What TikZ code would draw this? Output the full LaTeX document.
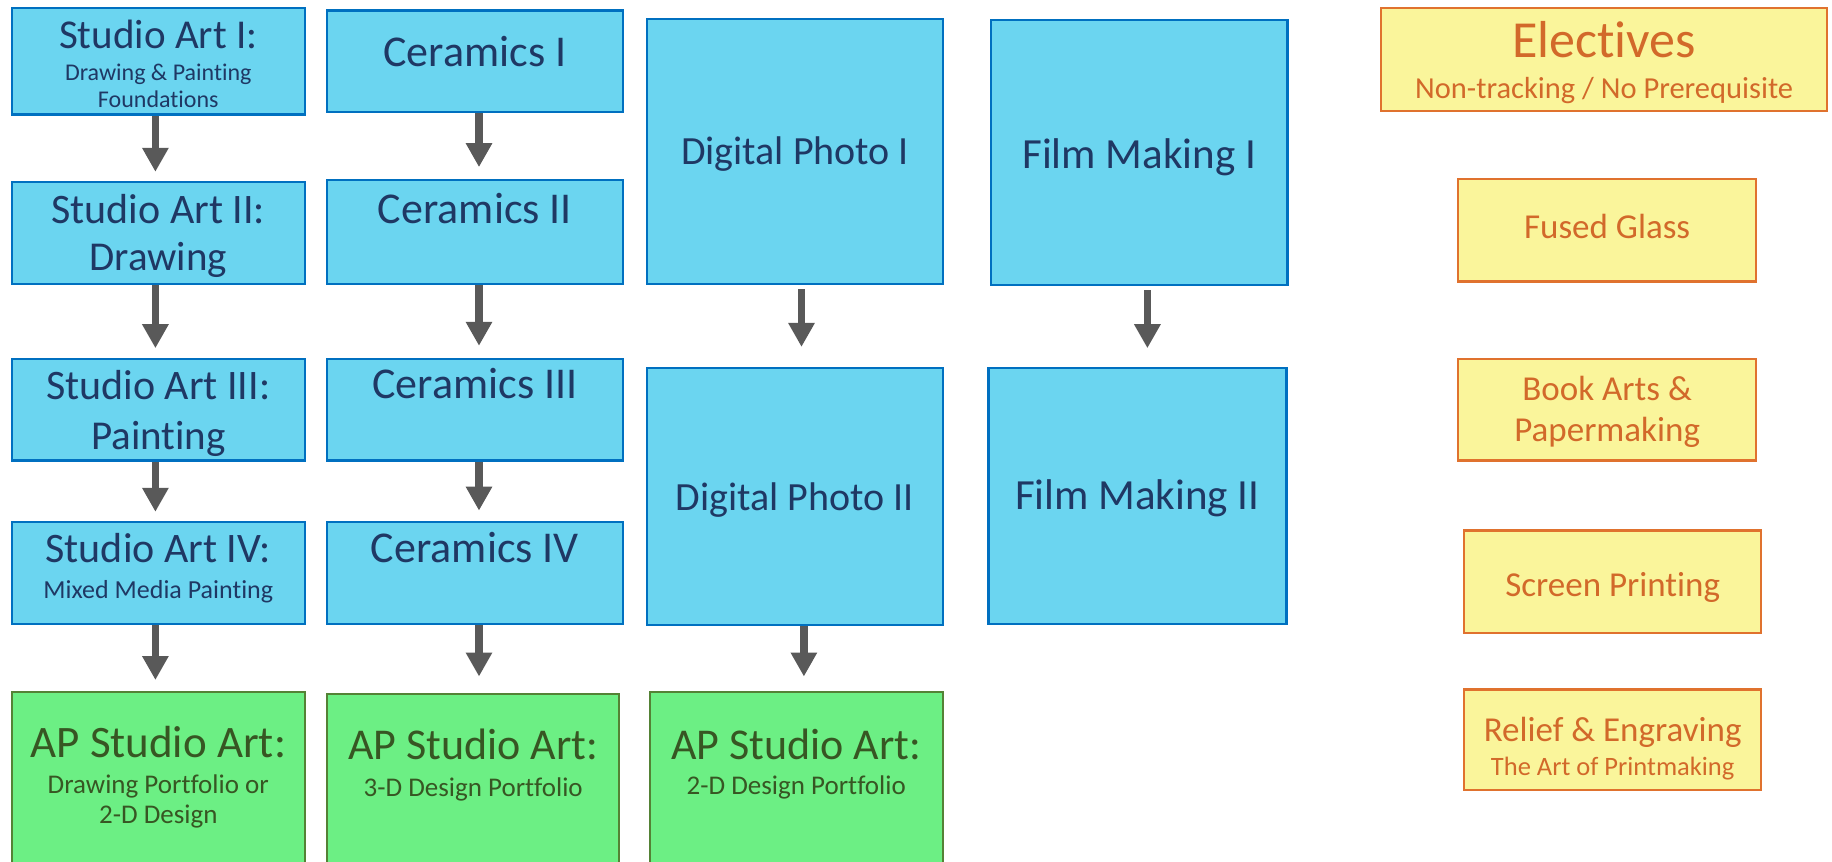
\documentclass[tikz,border=0pt]{standalone}
\usepackage{fontspec}
\setmainfont[Ligatures=NoCommon]{Carlito}
\usetikzlibrary{arrows.meta}
\definecolor{bfill}{HTML}{6BD5F0}
\definecolor{bdraw}{HTML}{0070C0}
\definecolor{btext}{HTML}{1F3864}
\definecolor{gfill}{HTML}{6CEF84}
\definecolor{gdraw}{HTML}{548235}
\definecolor{gtext}{HTML}{375623}
\definecolor{yfill}{HTML}{FAF59B}
\definecolor{ydraw}{HTML}{E0722E}
\definecolor{ytext}{HTML}{D2692A}
\definecolor{arrc}{HTML}{595959}
\newcommand\myfs[1]{\fontsize{#1}{#1}\selectfont}
\newcommand\mkbox[6]{\node[#2, anchor=north west, minimum width={#5-#3}, minimum height={#6-#4}] (#1) at (#3,#4) {};}
\begin{document}
\begin{tikzpicture}[x=1pt,y=-1pt,
  boxbase/.style={rectangle, inner sep=0, line width=2.3pt},
  bluebox/.style={boxbase, fill=bfill, draw=bdraw},
  greenbox/.style={boxbase, fill=gfill, draw=gdraw},
  yellowbox/.style={boxbase, fill=yfill, draw=ydraw},
  txt/.style={inner sep=0, anchor=base},
  bt/.style={txt, text=btext},
  gt/.style={txt, text=gtext},
  yt/.style={txt, text=ytext},
  arr/.style={draw=arrc, line width=7.5pt, -{Triangle[width=25pt,length=24pt]}, fill=arrc}
]
\useasboundingbox (0,0) rectangle (1832,862);
\clip (0,0) rectangle (1832,862);
\fill[white] (0,0) rectangle (1832,862);

% column 1
\mkbox{sa1}{bluebox}{10.5}{7}{303.8}{113.3}
\mkbox{sa2}{bluebox}{10.5}{181.1}{303.8}{282.8}
\mkbox{sa3}{bluebox}{10.5}{357.5}{303.8}{459.2}
\mkbox{sa4}{bluebox}{10.5}{521.1}{303.8}{622.8}
\mkbox{ap1}{greenbox}{10.5}{690.5}{303.8}{900}
% column 2
\mkbox{ce1}{bluebox}{326}{9.3}{621.6}{111}
\mkbox{ce2}{bluebox}{326}{178.8}{621.6}{282.8}
\mkbox{ce3}{bluebox}{326}{357.5}{621.6}{459.2}
\mkbox{ce4}{bluebox}{326}{521.1}{621.6}{622.8}
\mkbox{ap2}{greenbox}{326}{692.9}{618.1}{900}
% column 3
\mkbox{dp1}{bluebox}{646.1}{17.5}{941.7}{282.8}
\mkbox{dp2}{bluebox}{646.1}{366.9}{941.7}{623.9}
\mkbox{ap3}{greenbox}{648.5}{690.5}{941.7}{900}
% column 4
\mkbox{fm1}{bluebox}{989.6}{18.7}{1286.4}{283.9}
\mkbox{fm2}{bluebox}{987.3}{366.9}{1285.2}{622.8}
% electives
\mkbox{el}{yellowbox}{1380}{7}{1826}{110}
\mkbox{fg}{yellowbox}{1457}{177.6}{1755}{280.4}
\mkbox{ba}{yellowbox}{1457}{357.5}{1755}{459.2}
\mkbox{sp}{yellowbox}{1463}{529.3}{1760}{632.1}
\mkbox{re}{yellowbox}{1463}{688.2}{1760}{788.7}

% texts column 1
\node[bt, font=\myfs{41}] (sa1a) at (sa1.north |- 0,48.2) {Studio Art I:};
\node[bt, font=\myfs{24}] (sa1b) at (sa1.north |- 0,80) {Drawing \& Painting};
\node[bt, font=\myfs{24}] (sa1c) at (sa1.north |- 0,107.3) {Foundations};
\node[bt, font=\myfs{42}] (sa2a) at (sa2.north |- 0,223.8) {Studio Art II:};
\node[bt, font=\myfs{41}] (sa2b) at (sa2.north |- 0,270.2) {Drawing};
\node[bt, font=\myfs{42}] (sa3a) at (sa3.north |- 0,399) {Studio Art III:};
\node[bt, font=\myfs{41}] (sa3b) at (sa3.north |- 0,449) {Painting};
\node[bt, font=\myfs{42}] (sa4a) at (sa4.north |- 0,562.5) {Studio Art IV:};
\node[bt, font=\myfs{26}] (sa4b) at (sa4.north |- 0,598.4) {Mixed Media Painting};
\node[gt, font=\myfs{45}] (ap1a) at (ap1.north |- 0,757.6) {AP Studio Art:};
\node[gt, font=\myfs{27}] (ap1b) at (ap1.north |- 0,793.8) {Drawing Portfolio or};
\node[gt, font=\myfs{27}] (ap1c) at (ap1.north |- 0,823) {2-D Design};
% texts column 2
\node[bt, font=\myfs{44}] (ce1a) at (ce1.north |- 0,66.8) {Ceramics I};
\node[bt, font=\myfs{44}] (ce2a) at (ce2.north |- 0,223.3) {Ceramics II};
\node[bt, font=\myfs{44}] (ce3a) at (ce3.north |- 0,398.6) {Ceramics III};
\node[bt, font=\myfs{44}] (ce4a) at (ce4.north |- 0,562.2) {Ceramics IV};
\node[gt, font=\myfs{44}] (ap2a) at (ap2.north |- 0,759.6) {AP Studio Art:};
\node[gt, font=\myfs{27}] (ap2b) at (ap2.north |- 0,796.1) {3-D Design Portfolio};
% texts column 3
\node[bt, font=\myfs{40}] (dp1a) at (dp1.north |- 0,164.8) {Digital Photo I};
\node[bt, font=\myfs{40}] (dp2a) at (dp2.north |- 0,510.6) {Digital Photo II};
\node[gt, font=\myfs{44}] (ap3a) at (ap3.north |- 0,759.6) {AP Studio Art:};
\node[gt, font=\myfs{27}] (ap3b) at (ap3.north |- 0,794.9) {2-D Design Portfolio};
% texts column 4
\node[bt, font=\myfs{43}] (fm1a) at (fm1.north |- 0,168.1) {Film Making I};
\node[bt, font=\myfs{43}] (fm2a) at (fm2.north |- 0,509.3) {Film Making II};
% electives texts
\node[yt, font=\myfs{52}] (ela) at (el.north |- 0,57.6) {Electives};
\node[yt, font=\myfs{30.5}] (elb) at (el.north |- 0,98.6) {Non-tracking / No Prerequisite};
\node[yt, font=\myfs{35}] (fga) at (fg.north |- 0,238) {Fused Glass};
\node[yt, font=\myfs{35}] (baa) at (ba.north |- 0,400.4) {Book Arts \&};
\node[yt, font=\myfs{35}] (bab) at (ba.north |- 0,441.3) {Papermaking};
\node[yt, font=\myfs{35}] (spa) at (sp.north |- 0,596.7) {Screen Printing};
\node[yt, font=\myfs{35}] (rea) at (re.north |- 0,741.6) {Relief \& Engraving};
\node[yt, font=\myfs{26.5}] (reb) at (re.north |- 0,775) {The Art of Printmaking};

% arrow axes
\coordinate (ax1) at (155.4,0);
\coordinate (ax2) at (479,0);
\coordinate (ax3) at (801.5,0);
\coordinate (ax3b) at (803.9,0);
\coordinate (ax4) at (1147.4,0);

\draw[arr] (sa1.south -| ax1) -- ([yshift=9.3pt]sa2.north -| ax1);
\draw[arr] (sa2.south -| ax1) -- ([yshift=9.3pt]sa3.north -| ax1);
\draw[arr] (sa3.south -| ax1) -- ([yshift=9.3pt]sa4.north -| ax1);
\draw[arr] (sa4.south -| ax1) -- ([yshift=10.5pt]ap1.north -| ax1);
\draw[arr] (ce1.south -| ax2) -- ([yshift=11.7pt]ce2.north -| ax2);
\draw[arr] (ce2.south -| ax2) -- ([yshift=11.7pt]ce3.north -| ax2);
\draw[arr] (ce3.south -| ax2) -- ([yshift=10.5pt]ce4.north -| ax2);
\draw[arr] (ce4.south -| ax2) -- ([yshift=16.4pt]ap2.north -| ax2);
\draw[arr] ([yshift=-4pt]dp1.south -| ax3) -- ([yshift=20pt]dp2.north -| ax3);
\draw[arr] (dp2.south -| ax3b) -- ([yshift=14pt]ap3.north -| ax3b);
\draw[arr] ([yshift=-4pt]fm1.south -| ax4) -- ([yshift=18.7pt]fm2.north -| ax4);
\end{tikzpicture}
\end{document}
